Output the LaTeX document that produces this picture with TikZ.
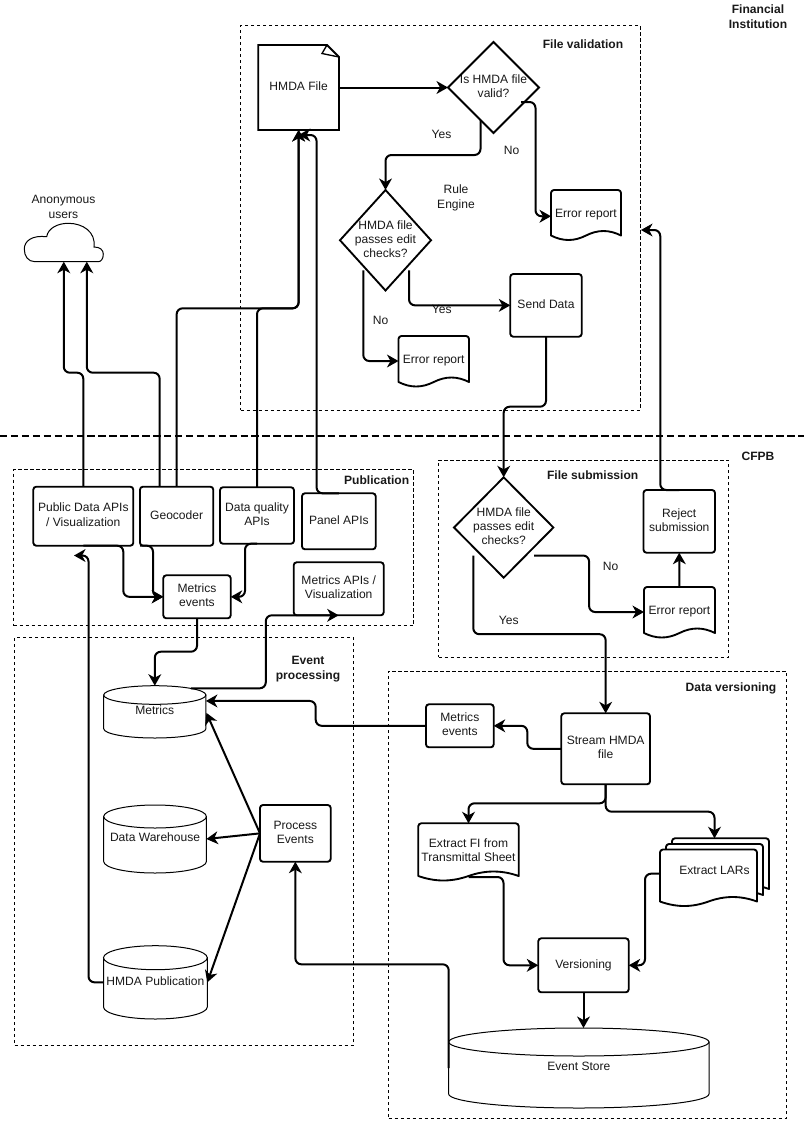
\documentclass[tikz,border=0pt]{standalone}
\usepackage{fontspec}
\setmainfont{Liberation Sans}
\usetikzlibrary{arrows.meta,calc}
\renewcommand\arraystretch{0.9375}
\tikzset{
  txt/.style={inner sep=0pt,outer sep=0pt,align=center,font=\fontsize{9.05}{11.25}\selectfont,text=black!90},
  lbl/.style={txt},
  head/.style={txt,font=\fontsize{9.05}{11.25}\selectfont\bfseries},
  nd/.style={txt,rectangle},
  proc/.style={nd,draw=black,line width=1.4pt,rounded corners=2.2pt},
  group/.style={nd,draw=black,line width=0.75pt,dash pattern=on 2.4pt off 2.1pt},
  sep/.style={draw=black,line width=1.5pt,dash pattern=on 5.6pt off 2.6pt},
  outline/.style={draw=black,line width=1.4pt},
  thin outline/.style={draw=black,line width=0.75pt,fill=white},
  conn/.style={draw=black,line width=1.5pt,rounded corners=4.5pt,-{Stealth[length=8.6pt,width=9.6pt,inset=2.6pt]}}
}
% box: [style]{name}{x1}{y1}{x2}{y2}{text}
\newcommand\bx[7][]{\node[nd,#1,minimum width={(#5-#3)*0.75pt},minimum height={(#6-#4)*0.75pt}] (#2) at ({(#3+#5)/2},{(#4+#6)/2}) {\raisebox{1.1pt}{\begin{tabular}{@{}c@{}}#7\end{tabular}}};}
% document sheet: x1 y1 x2 y2
\newcommand\sheet[4]{%
  \pgfmathsetmacro\shA{#1+0.17*(#3-#1)}\pgfmathsetmacro\shB{#1+0.33*(#3-#1)}\pgfmathsetmacro\shC{#1+0.5*(#3-#1)}%
  \pgfmathsetmacro\shD{#1+0.67*(#3-#1)}\pgfmathsetmacro\shE{#1+0.83*(#3-#1)}%
  \pgfmathsetmacro\shY{#4-4}\pgfmathsetmacro\shL{#4+2}\pgfmathsetmacro\shH{#4-10}%
  \draw[outline,fill=white,line join=round] (#1,\shY) [rounded corners=2.2pt] -- (#1,#2) -- (#3,#2) [sharp corners] -- (#3,\shY)
     .. controls (\shE,\shH) and (\shD,\shH) .. (\shC,\shY) .. controls (\shB,\shL) and (\shA,\shL) .. (#1,\shY) -- cycle;}
% document with text
\newcommand\wdoc[6]{\sheet{#2}{#3}{#4}{#5}\bx{#1}{#2}{#3}{#4}{#5}{#6}}
% diamond
\newcommand\dia[6]{\bx{#1}{#2}{#3}{#4}{#5}{#6}%
  \draw[outline] (#1.north) -- (#1.east) -- (#1.south) -- (#1.west) -- cycle;}
% cylinder: name x1 y1 x2 y2 ry text
\newcommand\mkcyl[7]{%
  \pgfmathsetmacro\cyrx{(#4-#2)/2*0.75}\pgfmathsetmacro\cyry{#6*0.75}%
  \pgfmathsetmacro\cyt{#3+#6}\pgfmathsetmacro\cyb{#5-#6}\pgfmathsetmacro\cyc{(#2+#4)/2}%
  \draw[thin outline] (#2,\cyt) -- (#2,\cyb) arc[start angle=180,end angle=360,x radius=\cyrx pt,y radius=\cyry pt] -- (#4,\cyt) -- cycle;
  \draw[thin outline] (\cyc,\cyt) ellipse [x radius=\cyrx pt,y radius=\cyry pt];
  \bx{#1}{#2}{#3}{#4}{#5}{#7}}
\begin{document}
\begin{tikzpicture}[x=0.75pt,y=-0.75pt]
\useasboundingbox (0,0) rectangle (804,1122);
% groups
\bx[group]{gval}{240.5}{25.5}{640}{410}{}
\bx[group]{gsub}{438.5}{460}{728.5}{657}{}
\bx[group]{gpub}{13.5}{469.5}{413.5}{625.5}{}
\bx[group]{gevt}{14.5}{637.5}{353.5}{1045}{}
\bx[group]{gver}{388.5}{671}{786.5}{1118}{}
\coordinate (sepl) at (0,436.3);
\coordinate (sepr) at (804,436.3);
\draw[sep] (sepl) -- (sepr);
% headings
\node[head] (hfi) at (758,17) {Financial\\Institution};
\node[head] (hcf) at (758,456) {CFPB};
\node[head] (hfv) at (583,43.7) {File validation};
\node[head] (hfs) at (592.7,475.5) {File submission};
\node[head] (hpb) at (376.7,480) {Publication};
\node[head] (hev) at (308,669) {Event\\processing};
\node[head] (hdv) at (731,688) {Data versioning};
% labels
\node[lbl] (l1) at (441.5,134.5) {Yes};
\node[lbl] (l2) at (511.7,150) {No};
\node[lbl] (l3) at (456,198) {Rule\\Engine};
\node[lbl] (l4) at (441.7,309) {Yes};
\node[lbl] (l5) at (380.7,320) {No};
\node[lbl] (l6) at (610.7,566) {No};
\node[lbl] (l7) at (508.7,620.7) {Yes};
\node[lbl] (l8) at (63.5,206.5) {Anonymous\\users};
% HMDA file
\bx{hmda}{258.3}{45}{339}{130}{HMDA File}
\draw[outline,line join=miter] (258.3,45) -- (327,45) -- (339,57) -- (339,130) -- (258.3,130) -- cycle;
\draw[line width=1pt] (327,45) -- (322,53.5) -- (339,57);
% diamonds
\dia{valid}{448}{42}{539}{133}{Is HMDA file\\valid?}
\dia{rules}{340}{190}{431}{290.5}{HMDA file\\passes edit\\checks?}
\dia{subd}{454}{477.3}{553.4}{577.7}{HMDA file\\passes edit\\checks?}
% documents
\wdoc{erra}{551}{190}{621}{239.5}{Error report}
\wdoc{errb}{398.5}{336}{469}{386}{Error report}
\wdoc{errc}{644}{587}{715}{637}{Error report}
\wdoc{fi}{418.3}{823.3}{518.7}{880}{Extract FI from\\Transmittal Sheet}
\sheet{672}{838.3}{769}{893}
\sheet{666}{844}{763}{899}
\sheet{660}{849.5}{757}{905.5}
\bx{lars}{660}{838.3}{769}{905.5}{Extract LARs}
% process boxes
\bx[proc]{send}{510.3}{274}{581.7}{336.7}{Send Data}
\bx[proc]{reject}{643.5}{490}{715}{552.7}{Reject\\submission}
\bx[proc]{pub}{33.3}{486.7}{133.3}{545.7}{Public Data APIs\\/ Visualization}
\bx[proc]{geo}{140}{486.7}{213.3}{545.7}{Geocoder}
\bx[proc]{dq}{220}{487.3}{294}{543.7}{Data quality\\APIs}
\bx[proc]{panel}{302}{493.3}{375.7}{549.3}{Panel APIs}
\bx[proc]{mev}{163.3}{575.3}{230.7}{618.3}{Metrics\\events}
\bx[proc]{mapi}{293.7}{562.3}{383.7}{615.3}{Metrics APIs /\\Visualization}
\bx[proc]{pe}{260}{805}{330.7}{861.7}{Process\\Events}
\bx[proc]{stream}{561.3}{713.3}{650}{784.3}{Stream HMDA\\file}
\bx[proc]{mevb}{426}{704.3}{493.7}{747.3}{Metrics\\events}
\bx[proc]{ver}{538.3}{938.3}{628.7}{992.3}{Versioning}
% cylinders
\mkcyl{metrics}{103.7}{685.7}{205.9}{738}{9.3}{Metrics}
\mkcyl{dw}{103.7}{805}{206.4}{873}{11.5}{Data Warehouse}
\mkcyl{hpub}{103.5}{945.7}{207.3}{1019}{12}{HMDA Publication}
\mkcyl{event}{448.7}{1028}{709}{1108}{14}{Event Store}
% cloud
\bx{cloud}{24.3}{223.3}{103.3}{261.7}{}
\draw[thin outline] (35,261.7) .. controls (28,261.7) and (24.3,256) .. (24.3,249) .. controls (24.3,241) and (32,235) .. (46.7,236.7) .. controls (48,228) and (58,223.3) .. (68.3,223.3) .. controls (83,223.3) and (96,232) .. (94,247) .. controls (100,247) and (103.3,250) .. (103.3,254) .. controls (103.3,259) and (101,261.7) .. (98.3,261.7) -- cycle;
% free ends
\coordinate (errin) at (641,230);
\coordinate (pubin) at (74,555.5);
% connectors
\draw[conn] (hmda.east) -- (valid.west);
\draw[conn] ($(valid.south)+(-13,-13)$) -- ++(0,35) -| (rules.north);
\draw[conn] ($(valid.east)+(-18,14.5)$) -- ++(14.5,0) |- ($(erra.west)+(0,1.5)$);
\draw[conn] ($(rules.east)+(-22,30)$) |- (send.west);
\draw[conn] ($(rules.west)+(23.3,30)$) |- (errb.west);
\draw[conn] (send.south) -- ++(0,70) -| (subd.north);
\draw[conn] ($(subd.west)+(19.3,28)$) -- ++(0,78.7) -| (stream.north);
\draw[conn] ($(subd.east)+(-19.3,28)$) -- ++(55,0) |- (errc.west);
\draw[conn] (errc.north) -- (reject.south);
\draw[conn] (reject.north) -- ++(-19,0) |- (errin);
\draw[conn] (pub.north) -- ++(0,-114) -| (cloud.south);
\draw[conn] ($(geo.north)+(-17,0)$) -- ++(0,-114) -| ($(cloud.south)+(23,0)$);
\draw[conn] (geo.north) -- ++(0,-178.4) -| (hmda.south);
\draw[conn] (dq.north) -- ++(0,-179) -| (hmda.south);
\draw[conn] (panel.north) -- ++(-22.3,0) |- ($(hmda.south)+(0,5)$);
\draw[conn] (pub.south) -- ++(40,0) |- (mev.west);
\draw[conn] (geo.south west) -- ++(13,0) |- (mev.west);
\draw[conn] (dq.south) -- ++(-12,0) |- (mev.east);
\draw[conn] (mev.south) -- ++(0,33.4) -| (metrics.north);
\draw[conn] ($(metrics.north)+(36,2.6)$) -- ++(75,0) |- (mapi.south);
\draw[conn] (hpub.west) -- ++(-15,0) |- (pubin);
\draw[conn] (mevb.west) -- ++(-110.3,0) |- ($(metrics.east)+(0,-10.9)$);
\draw[conn] (stream.west) -- ++(-34,0) |- (mevb.east);
\draw[conn,rounded corners=0pt] (pe.west) -- ($(metrics.east)+(0.5,1)$);
\draw[conn,rounded corners=0pt] (pe.west) -- (dw.east);
\draw[conn,rounded corners=0pt] (pe.west) -- (hpub.east);
\draw[conn] (event.west) -- ++(0,-103.7) -| (pe.south);
\draw[conn] (stream.south) -- ++(0,19) -| (fi.north);
\draw[conn] (stream.south) -- ++(0,27.4) -| (lars.north);
\draw[conn] ($(fi.south)+(0,-3)$) -- ++(35,0) |- (ver.west);
\draw[conn] ($(lars.west)+(0,1.8)$) -- ++(-15,0) |- (ver.east);
\draw[conn] (ver.south) -- (ver.south |- event.north);
\end{tikzpicture}
\end{document}
